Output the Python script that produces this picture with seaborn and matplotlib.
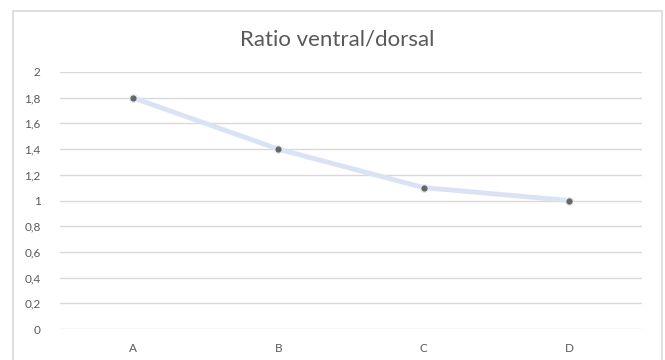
import matplotlib
matplotlib.use("Agg")
import matplotlib.pyplot as plt
import seaborn as sns
import pandas as pd
from matplotlib.patches import Rectangle

# data
categories = ["A", "B", "C", "D"]
ratio = [1.8, 1.4, 1.1, 1.0]
y_ticks = [0, 0.2, 0.4, 0.6, 0.8, 1.0, 1.2, 1.4, 1.6, 1.8, 2.0]

sns.set_theme(style="white")
plt.rcParams['font.family'] = ['Lato', 'DejaVu Sans']

W, H = 665, 360
fig = plt.figure(figsize=(W / 100, H / 100), dpi=100)
ax = fig.add_axes([60 / W, 31 / H, (642 - 60) / W, (329 - 72) / H])

df = pd.DataFrame({"cat": categories, "ratio": ratio})
sns.lineplot(data=df, x="cat", y="ratio", sort=False, ax=ax,
             color="#dae3f3", linewidth=3.5, marker="o", markersize=5.5,
             markerfacecolor="#666666", markeredgecolor="#e4eaf6",
             markeredgewidth=1, zorder=3)

ax.set_xlim(-0.5, len(categories) - 0.5)
ax.set_ylim(0, 2)
ax.set_yticks(y_ticks)
ax.set_yticklabels([f"{v:g}".replace(".", ",") for v in y_ticks])
ax.yaxis.grid(True, color="#d9d9d9", linewidth=1)
ax.xaxis.grid(False)
ax.set_axisbelow(True)
for s in ax.spines.values():
    s.set_visible(False)
ax.tick_params(axis="both", length=0, labelsize=8.5, colors="#595959")
ax.tick_params(axis="y", pad=14)
ax.tick_params(axis="x", pad=10)
ax.set_xlabel("")
ax.set_ylabel("")

fig.text(337 / W, 1 - 39 / H, "Ratio ventral/dorsal", ha="center", va="center",
         fontsize=16, color="#595959")

# outer chart frame (bottom edge cut off in the reference)
fig.patches.append(Rectangle((13 / W, -0.05), (662 - 13) / W, 1.05 - 11 / H,
                             transform=fig.transFigure, fill=False,
                             edgecolor="#d9d9d9", linewidth=1.2))

fig.savefig("out.png", dpi=100)
